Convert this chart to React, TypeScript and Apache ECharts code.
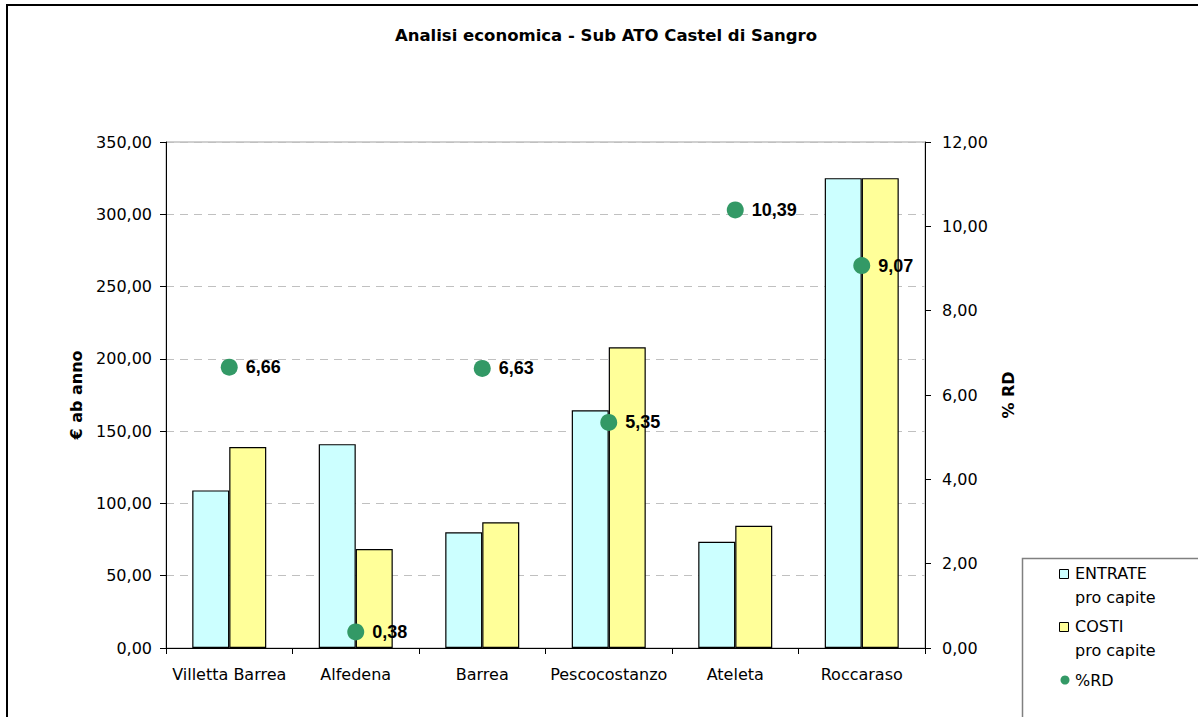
import React, { useEffect, useRef } from "react";
import * as echarts from "echarts";

const categories = ["Villetta Barrea", "Alfedena", "Barrea", "Pescocostanzo", "Ateleta", "Roccaraso"];
const entrate = [109, 141, 80, 164.5, 73.5, 325];
const costi = [139, 68.5, 87, 208, 84.5, 325];
const rd = [6.66, 0.38, 6.63, 5.35, 10.39, 9.07];
const title = "Analisi economica - Sub ATO Castel di Sangro";
const leftAxisName = "€ ab anno";
const rightAxisName = "% RD";
const legendLabels = ["ENTRATE\npro capite", "COSTI\npro capite", "%RD"];

const fmt = (v: number) => v.toFixed(2).replace(".", ",");

export default function App() {
  const ref = useRef<HTMLDivElement>(null);
  useEffect(() => {
    const chart = echarts.init(ref.current!, undefined, { renderer: "svg" });
    const font = "DejaVu Sans";
    const axisLine = { show: true, lineStyle: { color: "#000", width: 1 } };
    chart.setOption({
      animation: false,
      backgroundColor: "#fff",
      textStyle: { fontFamily: font },
      title: {
        text: title,
        left: 606,
        textAlign: "center",
        top: 27,
        padding: 0,
        textStyle: { fontFamily: font, fontWeight: "bold", fontSize: 16.5, color: "#000" },
      },
      grid: {
        left: 166,
        right: 273,
        top: 142,
        bottom: 69,
        show: true,
        borderColor: "#a0a0a0",
        borderWidth: 1,
        containLabel: false,
      },
      xAxis: {
        type: "category",
        data: categories,
        axisLine,
        axisTick: { show: true, length: 6, lineStyle: { color: "#000" } },
        axisLabel: { color: "#000", fontFamily: font, fontSize: 16, margin: 18, interval: 0 },
      },
      yAxis: [
        {
          type: "value",
          min: 0,
          max: 350,
          interval: 50,
          name: leftAxisName,
          nameLocation: "middle",
          nameRotate: 90,
          nameGap: 82,
          nameTextStyle: { fontFamily: font, fontWeight: "bold", fontSize: 16, color: "#000" },
          axisLine,
          axisTick: { show: true, length: 6, lineStyle: { color: "#000" } },
          axisLabel: { color: "#000", fontFamily: font, fontSize: 16, margin: 14, formatter: fmt },
          splitLine: { show: true, lineStyle: { color: "#c0c0c0", type: [8, 6], width: 1 } },
        },
        {
          type: "value",
          min: 0,
          max: 12,
          interval: 2,
          position: "right",
          name: rightAxisName,
          nameLocation: "middle",
          nameRotate: 90,
          nameGap: 75,
          nameTextStyle: { fontFamily: font, fontWeight: "bold", fontSize: 16, color: "#000" },
          axisLine,
          axisTick: { show: true, length: 6, lineStyle: { color: "#000" } },
          axisLabel: { color: "#000", fontFamily: font, fontSize: 16, margin: 17, formatter: fmt },
          splitLine: { show: false },
        },
      ],
      series: [
        {
          name: "ENTRATE pro capite",
          type: "bar",
          data: entrate,
          barWidth: 37,
          barGap: "0%",
          itemStyle: { color: "#CCFFFF", borderColor: "#000", borderWidth: 1.2 },
        },
        {
          name: "COSTI pro capite",
          type: "bar",
          data: costi,
          barWidth: 37,
          barGap: "0%",
          itemStyle: { color: "#FFFF99", borderColor: "#000", borderWidth: 1.2 },
        },
        {
          name: "%RD",
          type: "scatter",
          yAxisIndex: 1,
          data: rd,
          symbol: "circle",
          symbolSize: 17,
          z: 5,
          itemStyle: { color: "#339966", opacity: 1 },
          label: {
            show: true,
            position: "right",
            distance: 8,
            formatter: (p: any) => fmt(p.value),
            fontFamily: "Liberation Sans",
            fontWeight: "bold",
            fontSize: 18,
            color: "#000",
            opacity: 1,
          },
        },
      ],
      graphic: [
        {
          type: "rect",
          shape: { x: 7, y: 5, width: 1400, height: 900 },
          style: { fill: "none", stroke: "#000", lineWidth: 2 },
          silent: true,
        },
        {
          type: "rect",
          shape: { x: 1022.5, y: 558.5, width: 400, height: 400 },
          style: { fill: "#fff", stroke: "#808080", lineWidth: 1.5 },
          silent: true,
        },
        {
          type: "rect",
          shape: { x: 1059.5, y: 569.5, width: 9, height: 9 },
          style: { fill: "#CCFFFF", stroke: "#000", lineWidth: 1 },
        },
        {
          type: "text",
          x: 1075,
          y: 562,
          style: { text: legendLabels[0], fontFamily: font, fontSize: 16, fill: "#000", lineHeight: 23.5 },
        },
        {
          type: "rect",
          shape: { x: 1059.5, y: 622.5, width: 9, height: 9 },
          style: { fill: "#FFFF99", stroke: "#000", lineWidth: 1 },
        },
        {
          type: "text",
          x: 1075,
          y: 615,
          style: { text: legendLabels[1], fontFamily: font, fontSize: 16, fill: "#000", lineHeight: 23.5 },
        },
        {
          type: "circle",
          shape: { cx: 1065, cy: 680, r: 4.5 },
          style: { fill: "#339966" },
        },
        {
          type: "text",
          x: 1075,
          y: 672,
          style: { text: legendLabels[2], fontFamily: font, fontSize: 16, fill: "#000" },
        },
      ],
    });
    return () => chart.dispose();
  }, []);
  return (
    <div
      ref={ref}
      style={{ position: "fixed", left: 0, top: 0, width: 1198, height: 717 }}
    />
  );
}
